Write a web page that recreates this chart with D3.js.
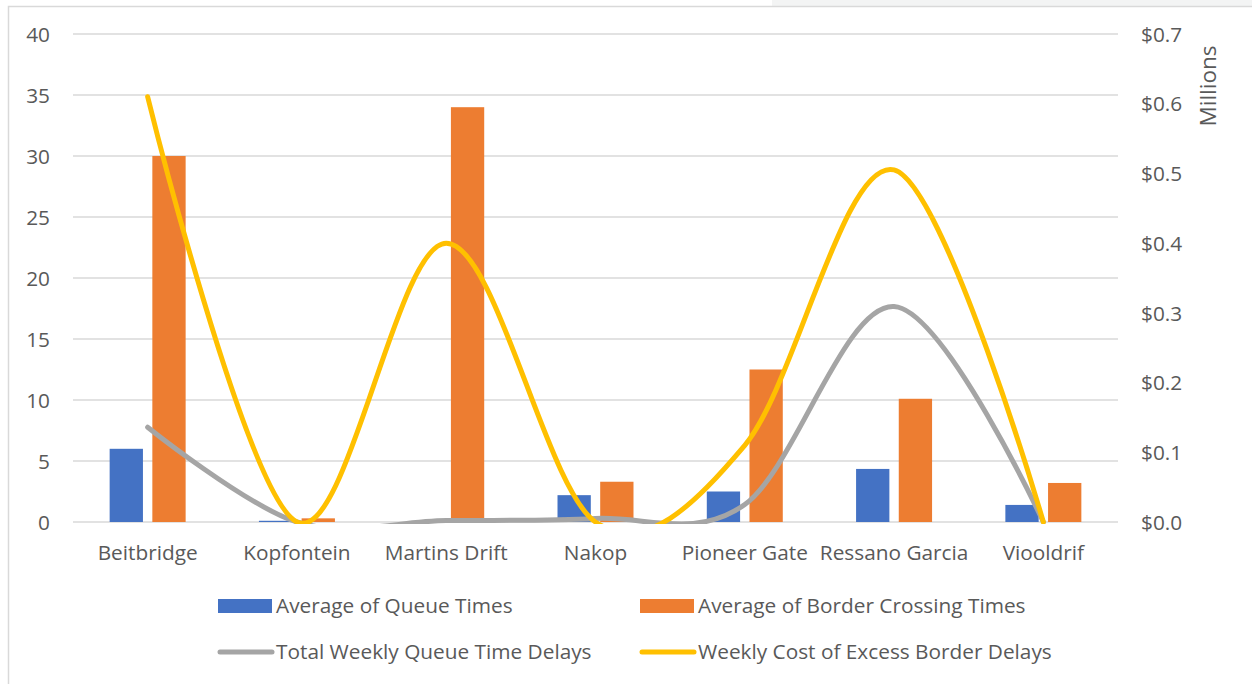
<!DOCTYPE html>
<html>
<head>
<meta charset="utf-8">
<script src="https://cdn.jsdelivr.net/npm/d3@7/dist/d3.min.js"></script>
<style>
  html, body { margin: 0; padding: 0; background: #ffffff; }
  svg { display: block; }
  text { font-family: "Open Sans", "Noto Sans", sans-serif; fill: #595959; }
</style>
</head>
<body>
<svg id="chart" width="1252" height="684"></svg>
<script>
// Border posts and their measured values
const categories = ["Beitbridge", "Kopfontein", "Martins Drift", "Nakop", "Pioneer Gate", "Ressano Garcia", "Viooldrif"];
const queueTimes = [6.0, 0.1, 0, 2.2, 2.5, 4.35, 1.4];            // left axis
const crossingTimes = [30, 0.3, 34, 3.3, 12.5, 10.1, 3.2];        // left axis
const queueDelays = [0.136, 0, 0.002, 0.005, 0.025, 0.309, 0];    // right axis, millions
const excessCost = [0.61, 0, 0.4, 0, 0.11, 0.505, 0];             // right axis, millions
const leftTicks = [0, 5, 10, 15, 20, 25, 30, 35, 40];
const rightTicks = [0, 0.1, 0.2, 0.3, 0.4, 0.5, 0.6, 0.7];

const barSeries = [
  { key: "q", name: "Average of Queue Times", values: queueTimes, color: "#4472c4" },
  { key: "c", name: "Average of Border Crossing Times", values: crossingTimes, color: "#ed7d31" }
];
const lineSeries = [
  { name: "Total Weekly Queue Time Delays", values: queueDelays, color: "#a5a5a5" },
  { name: "Weekly Cost of Excess Border Delays", values: excessCost, color: "#ffc000" }
];

const svg = d3.select("#chart");
const plot = { left: 73, right: 1118, top: 34, bottom: 522 };
const fontSize = "20.8px";

// outer frame and top strip
svg.append("rect").attr("x", 772).attr("y", 0).attr("width", 480).attr("height", 6).attr("fill", "#f3f4f4");
svg.append("rect").attr("x", 8.5).attr("y", 6.5).attr("width", 1400).attr("height", 800)
  .attr("fill", "#ffffff").attr("stroke", "#d9d9d9").attr("stroke-width", 1.5);

const x = d3.scaleBand().domain(categories).range([plot.left, plot.right]).paddingInner(0).paddingOuter(0);
const bw = x.bandwidth();
const x1 = d3.scaleBand().domain(barSeries.map(s => s.key))
  .range([bw * 0.2455, bw * 0.7545]).paddingInner(0.22).paddingOuter(0);
const yL = d3.scaleLinear().domain([0, 40]).range([plot.bottom, plot.top]);
const yR = d3.scaleLinear().domain([0, 0.7]).range([plot.bottom, plot.top]);

// gridlines
svg.append("g").selectAll("line").data(leftTicks).join("line")
  .attr("x1", plot.left).attr("x2", plot.right)
  .attr("y1", d => yL(d)).attr("y2", d => yL(d))
  .attr("stroke", "#d9d9d9").attr("stroke-width", 1.3);

// left axis
const axL = svg.append("g").attr("transform", `translate(${plot.left},0)`)
  .call(d3.axisLeft(yL).tickValues(leftTicks).tickSize(0).tickPadding(23));
axL.select(".domain").remove();
axL.selectAll("text").style("font-size", fontSize).attr("dy", "0.35em").attr("fill", "#595959");

// right axis
const axR = svg.append("g").attr("transform", `translate(${plot.right},0)`)
  .call(d3.axisRight(yR).tickValues(rightTicks).tickFormat(d3.format("$.1f")).tickSize(0).tickPadding(23));
axR.select(".domain").remove();
axR.selectAll("text").style("font-size", fontSize).attr("dy", "0.35em").attr("fill", "#595959");

svg.append("text").attr("transform", "translate(1216,86) rotate(-90)")
  .attr("text-anchor", "middle").style("font-size", "22.5px").text("Millions");

// category axis
const axX = svg.append("g").attr("transform", `translate(0,${plot.bottom})`)
  .call(d3.axisBottom(x).tickSize(0).tickPadding(23));
axX.select(".domain").remove();
axX.selectAll("text").style("font-size", fontSize).attr("fill", "#595959");

// clustered bars
const groups = svg.append("g").selectAll("g").data(categories).join("g")
  .attr("transform", d => `translate(${x(d)},0)`);
groups.selectAll("rect")
  .data((c, i) => barSeries.map(s => ({ s, v: s.values[i] })))
  .join("rect")
  .attr("x", d => x1(d.s.key))
  .attr("width", x1.bandwidth())
  .attr("y", d => yL(d.v))
  .attr("height", d => yL(0) - yL(d.v))
  .attr("fill", d => d.s.color);

// smoothed lines, clipped to the plot area
svg.append("clipPath").attr("id", "plotClip").append("rect")
  .attr("x", plot.left - 10).attr("y", plot.top - 20)
  .attr("width", plot.right - plot.left + 20).attr("height", plot.bottom - plot.top + 22);

const line = d3.line()
  .x((d, i) => x(categories[i]) + bw / 2)
  .y(d => yR(d))
  .curve(d3.curveCardinal.tension(0));

svg.append("g").attr("clip-path", "url(#plotClip)")
  .selectAll("path").data(lineSeries).join("path")
  .attr("d", d => line(d.values))
  .attr("fill", "none")
  .attr("stroke", d => d.color)
  .attr("stroke-width", 5)
  .attr("stroke-linecap", "round")
  .attr("stroke-linejoin", "round");

// legend
const legendItems = [
  { type: "bar", s: barSeries[0], x: 218, y: 606 },
  { type: "bar", s: barSeries[1], x: 640, y: 606 },
  { type: "line", s: lineSeries[0], x: 218, y: 652 },
  { type: "line", s: lineSeries[1], x: 640, y: 652 }
];
const lg = svg.append("g").selectAll("g").data(legendItems).join("g")
  .attr("transform", d => `translate(${d.x},${d.y})`);
lg.filter(d => d.type === "bar").append("rect")
  .attr("x", 0).attr("y", -7).attr("width", 54).attr("height", 14)
  .attr("fill", d => d.s.color);
lg.filter(d => d.type === "line").append("line")
  .attr("x1", 2).attr("x2", 54).attr("y1", 0).attr("y2", 0)
  .attr("stroke", d => d.s.color).attr("stroke-width", 5).attr("stroke-linecap", "round");
lg.append("text").attr("x", 58).attr("y", 0).attr("dy", "0.35em")
  .style("font-size", fontSize).text(d => d.s.name);
</script>
</body>
</html>
